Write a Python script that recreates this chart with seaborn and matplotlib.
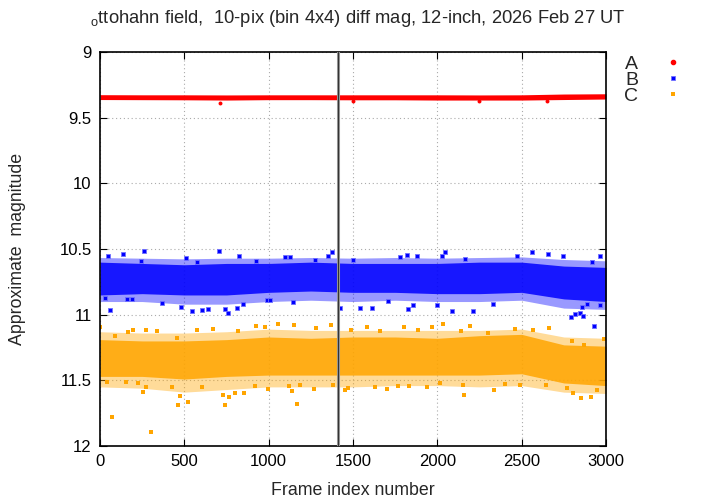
import numpy as np
import pandas as pd
import matplotlib
matplotlib.use("Agg")
import matplotlib.pyplot as plt
from matplotlib.lines import Line2D
from matplotlib.ticker import FuncFormatter
import seaborn as sns

# band readings every 250 frames: dense core and sparse halo edges (mag)
knot_frames = [0, 250, 500, 750, 1000, 1250, 1500, 1750, 2000, 2250, 2500, 2750, 3000]

a_core_top = [9.325, 9.326, 9.326, 9.327, 9.326, 9.326, 9.326, 9.326, 9.326, 9.327, 9.326, 9.320, 9.318]
a_core_bot = [9.362, 9.363, 9.364, 9.366, 9.363, 9.363, 9.364, 9.364, 9.366, 9.366, 9.366, 9.362, 9.358]

b_core_top = [10.60, 10.61, 10.62, 10.61, 10.61, 10.60, 10.61, 10.61, 10.61, 10.60, 10.60, 10.63, 10.64]
b_core_bot = [10.85, 10.84, 10.85, 10.85, 10.83, 10.82, 10.83, 10.83, 10.84, 10.84, 10.83, 10.88, 10.90]
b_halo_top = [10.565, 10.57, 10.575, 10.57, 10.57, 10.565, 10.57, 10.565, 10.57, 10.565, 10.56, 10.58, 10.59]
b_halo_bot = [10.90, 10.90, 10.92, 10.92, 10.90, 10.89, 10.90, 10.89, 10.90, 10.90, 10.89, 10.95, 10.96]

c_core_top = [11.19, 11.20, 11.20, 11.19, 11.17, 11.18, 11.17, 11.17, 11.18, 11.16, 11.15, 11.23, 11.24]
c_core_bot = [11.47, 11.47, 11.49, 11.47, 11.46, 11.46, 11.46, 11.46, 11.46, 11.46, 11.45, 11.52, 11.54]
c_halo_top = [11.13, 11.14, 11.14, 11.13, 11.11, 11.12, 11.12, 11.12, 11.12, 11.12, 11.11, 11.17, 11.18]
c_halo_bot = [11.55, 11.56, 11.59, 11.57, 11.55, 11.55, 11.55, 11.54, 11.54, 11.55, 11.54, 11.59, 11.60]

# individual sparse points read at the band edges
a_pts_frame = [711, 1500, 2250, 2650]
a_pts_mag = [9.385, 9.372, 9.375, 9.372]

b_pts_frame = [49, 138, 243, 263, 508, 573, 708, 826, 925, 30, 59, 158, 188, 366, 480, 544, 603,
               642, 741, 761, 810, 850, 988, 1097, 1127, 1275, 1350, 1374, 1502, 1779, 1818, 1878,
               1008, 1146, 1423, 1542, 1611, 1710, 1824, 1858, 1996, 2026, 2045, 2164, 2470, 2559,
               2658, 2747, 2915, 2965, 2089, 2213, 2332, 2793, 2816, 2846, 2856, 2885, 2965, 2862,
               2931]
b_pts_mag = [10.55, 10.538, 10.59, 10.518, 10.569, 10.60, 10.513, 10.556, 10.59, 10.87, 10.964,
             10.88, 10.88, 10.91, 10.94, 10.975, 10.967, 10.954, 10.96, 10.99, 10.95, 10.92, 10.89,
             10.56, 10.56, 10.58, 10.55, 10.526, 10.58, 10.56, 10.546, 10.55, 10.89, 10.90, 10.946,
             10.95, 10.95, 10.895, 10.96, 10.93, 10.93, 10.55, 10.52, 10.577, 10.556, 10.52, 10.54,
             10.55, 10.597, 10.55, 10.97, 10.97, 10.92, 11.015, 10.997, 10.985, 10.945, 10.92,
             10.93, 11.008, 11.086]

c_pts_frame = [0, 89, 168, 194, 271, 336, 455, 573, 672, 820, 925, 978, 40, 152, 227, 257, 271,
               425, 464, 474, 524, 603, 727, 741, 767, 800, 854, 919, 73, 302, 1053, 1152, 1279,
               1370, 1488, 1581, 1660, 1804, 1887, 1966, 998, 1121, 1140, 1166, 1186, 1271, 1383,
               1453, 1472, 1630, 1700, 1769, 1834, 1937, 2036, 2140, 2194, 2302, 2461, 2569, 2662,
               2800, 2872, 2990, 2016, 2154, 2160, 2336, 2401, 2490, 2644, 2767, 2802, 2852, 2909,
               2945]
c_pts_mag = [11.096, 11.165, 11.13, 11.114, 11.114, 11.127, 11.178, 11.12, 11.107, 11.127, 11.084,
             11.096, 11.51, 11.51, 11.52, 11.59, 11.55, 11.553, 11.685, 11.617, 11.665, 11.553,
             11.61, 11.685, 11.63, 11.597, 11.60, 11.546, 11.78, 11.896, 11.069, 11.076, 11.10,
             11.076, 11.12, 11.096, 11.127, 11.096, 11.114, 11.096, 11.563, 11.546, 11.584, 11.678,
             11.538, 11.563, 11.533, 11.571, 11.558, 11.55, 11.563, 11.546, 11.546, 11.553, 11.071,
             11.122, 11.089, 11.14, 11.107, 11.114, 11.10, 11.198, 11.228, 11.183, 11.52, 11.538,
             11.61, 11.571, 11.525, 11.533, 11.533, 11.558, 11.596, 11.635, 11.627, 11.571]

event_frame = 1413
star_names = ["A", "B", "C"]
star_colors = {"A": "#ff0000", "B": "#0000ff", "C": "#ffa500"}

title = r"$_{\mathrm{o}}$ttohahn field,  10-pix (bin 4x4) diff mag, 12-inch, 2026 Feb 27 UT"

sns.set_theme(style="ticks")
plt.rcParams["font.family"] = ["Liberation Sans", "DejaVu Sans"]
plt.rcParams["mathtext.fontset"] = "custom"
plt.rcParams["mathtext.rm"] = "Liberation Sans"

fig = plt.figure(figsize=(7.2, 5.04), dpi=100)
ax = fig.add_axes([100 / 720, 58 / 504, 506 / 720, 394 / 504])

bands = [
    ("C", c_halo_top, c_halo_bot, c_core_top, c_core_bot),
    ("B", b_halo_top, b_halo_bot, b_core_top, b_core_bot),
]
for name, ht, hb, ct, cb in bands:
    col = star_colors[name]
    ax.fill_between(knot_frames, ht, hb, color=col, alpha=0.4, lw=0)
    ax.fill_between(knot_frames, ct, cb, color=col, alpha=0.85, lw=0)
ax.fill_between(knot_frames, a_core_top, a_core_bot, color=star_colors["A"], lw=0)

pts = pd.concat([
    pd.DataFrame({"frame": a_pts_frame, "mag": a_pts_mag, "star": "A"}),
    pd.DataFrame({"frame": b_pts_frame, "mag": b_pts_mag, "star": "B"}),
    pd.DataFrame({"frame": c_pts_frame, "mag": c_pts_mag, "star": "C"}),
])
sns.scatterplot(data=pts[pts.star == "C"], x="frame", y="mag", color=star_colors["C"],
                marker="s", s=11, linewidth=0, ax=ax, legend=False)
sns.scatterplot(data=pts[pts.star == "B"], x="frame", y="mag", color=star_colors["B"],
                marker="s", s=11, linewidth=0.6, edgecolor="#7070ff", ax=ax, legend=False)
sns.scatterplot(data=pts[pts.star == "A"], x="frame", y="mag", color=star_colors["A"],
                marker="o", s=8, linewidth=0, ax=ax, legend=False)

ax.axvline(event_frame, color="#999999", lw=2.2, zorder=3)
ax.axvline(event_frame, color="#333333", lw=0.8, zorder=3)

ax.set_xlim(0, 3000)
ax.set_ylim(12, 9)
ax.set_xticks(range(0, 3001, 500))
ax.set_yticks(np.arange(9, 12.01, 0.5))
ax.yaxis.set_major_formatter(FuncFormatter(lambda v, p: f"{v:g}"))
ax.grid(True, ls=(0, (1, 2.5)), color="#aaaaaa", lw=0.8)
ax.set_axisbelow(True)
ax.tick_params(direction="in", top=True, right=True, length=5, width=0.8,
               labelsize=12, colors="black", pad=6)
for sp in ax.spines.values():
    sp.set_visible(True)
    sp.set_color("black")
    sp.set_linewidth(1.2)

ax.set_xlabel("Frame index number", fontsize=12.8, labelpad=9)
ax.set_ylabel("Approximate  magnitude", fontsize=12.8, labelpad=24)
fig.text(0.497, 0.963, title, ha="center", va="center", fontsize=13.2)

handles = [
    Line2D([], [], ls="none", marker="o", ms=3, color=star_colors["A"]),
    Line2D([], [], ls="none", marker="s", ms=3.2, color=star_colors["B"], mec="#7070ff", mew=0.6),
    Line2D([], [], ls="none", marker="s", ms=3.2, color=star_colors["C"], mew=0),
]
ax.legend(handles, star_names, loc="upper left", bbox_to_anchor=(624 / 720, 1 - 55 / 504),
          bbox_transform=fig.transFigure, frameon=False, markerfirst=False,
          fontsize=14, handlelength=1.0, handletextpad=1.3, labelspacing=-0.08,
          borderpad=0, borderaxespad=0)

fig.savefig("out.png", dpi=100)
